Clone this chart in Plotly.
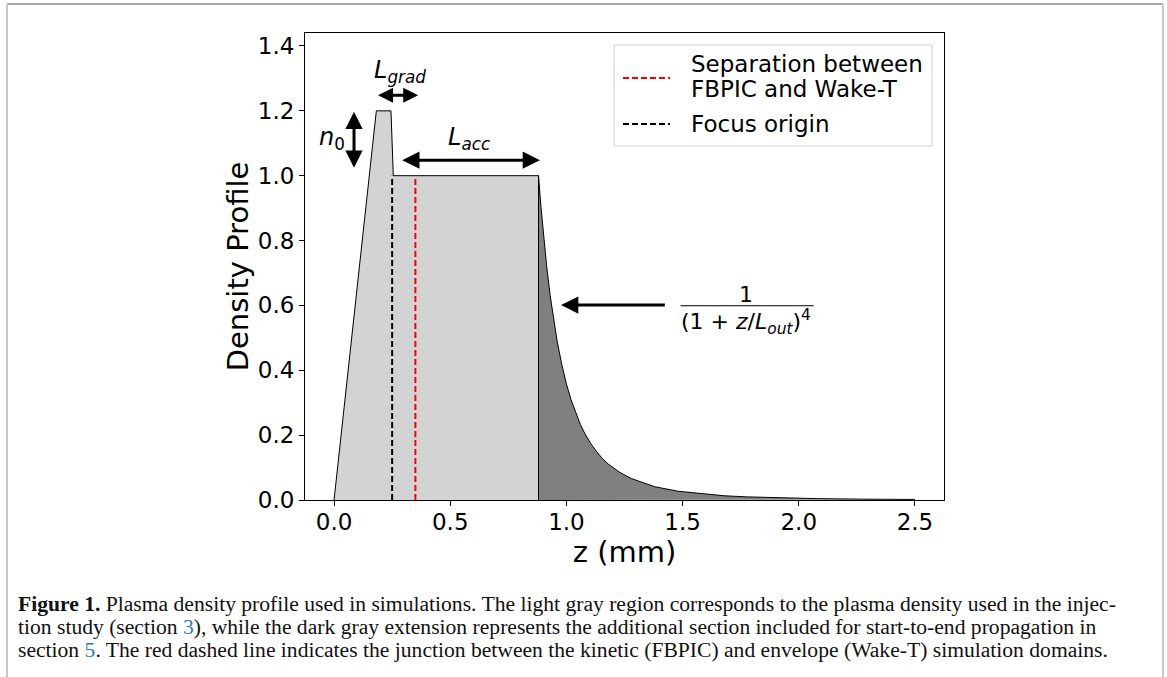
import plotly.graph_objects as go

# ---------------- data ----------------
profile_z = [0.0, 0.182, 0.245, 0.255, 0.88, 0.88]
profile_n = [0.0, 1.2, 1.2, 1.0, 1.0, 0.0]

decay_z = [0.88, 0.88, 0.89, 0.90, 0.915, 0.93, 0.945, 0.96, 0.98, 1.00, 1.02, 1.04,
           1.06, 1.08, 1.105, 1.13, 1.155, 1.18, 1.23, 1.28, 1.38, 1.48, 1.58,
           1.68, 1.78, 1.88, 2.08, 2.28, 2.50]
decay_n = [0.0, 1.0, 0.908, 0.826, 0.721, 0.631, 0.555, 0.490, 0.418, 0.358, 0.309, 0.268,
           0.233, 0.204, 0.174, 0.149, 0.128, 0.111, 0.085, 0.066, 0.041, 0.027, 0.019,
           0.013, 0.0096, 0.0071, 0.0042, 0.0026, 0.0017]

focus_z = 0.25
separation_z = 0.35
line_top = 1.0

x_ticks = [0.0, 0.5, 1.0, 1.5, 2.0, 2.5]
y_ticks = [0.0, 0.2, 0.4, 0.6, 0.8, 1.0, 1.2, 1.4]

legend_labels = ["Separation between", "FBPIC and Wake-T", "Focus origin"]

# ---------------- layout geometry ----------------
W, H = 1167, 677
L, R, T, B = 305, 944, 33, 500
PW, PH = R - L, B - T


def px(x):
    return (x - L) / PW


def py(y):
    return (B - y) / PH


FONT = "DejaVu Sans"
fig = go.Figure()

fig.add_trace(go.Scatter(x=profile_z, y=profile_n, mode="lines", fill="toself",
                         fillcolor="#d3d3d3", line=dict(color="black", width=1),
                         showlegend=False, hoverinfo="skip"))
fig.add_trace(go.Scatter(x=decay_z, y=decay_n, mode="lines", fill="toself",
                         fillcolor="#808080", line=dict(color="black", width=1),
                         showlegend=False, hoverinfo="skip"))
fig.add_trace(go.Scatter(x=[separation_z, separation_z], y=[0, line_top], mode="lines",
                         line=dict(color="red", width=2, dash="6px,3px"),
                         showlegend=False, name="Separation between FBPIC and Wake-T"))
fig.add_trace(go.Scatter(x=[focus_z, focus_z], y=[0, line_top], mode="lines",
                         line=dict(color="black", width=2, dash="6px,3px"),
                         showlegend=False, name="Focus origin"))

ann = []


def arrow(x0, y0, x1, y1, both=True, size=1.15):
    ann.append(dict(x=x1, y=y1, ax=x0, ay=y0, xref="x", yref="y", axref="x", ayref="y",
                    showarrow=True, arrowhead=2, arrowsize=size, arrowwidth=3,
                    arrowside="end+start" if both else "end", arrowcolor="black",
                    text=""))


arrow(0.183, 1.248, 0.362, 1.248, size=1.0)
arrow(0.086, 1.02, 0.086, 1.197)
arrow(0.287, 1.048, 0.886, 1.048)
arrow(1.43, 0.601, 0.977, 0.601, both=False)


def label(x, y, text, size=24):
    ann.append(dict(x=x, y=y, xref="x", yref="y", text=text, showarrow=False,
                    font=dict(family=FONT, size=size, color="black")))


label(0.285, 1.322, "<i>L</i><sub><i>grad</i></sub>")
label(-0.01, 1.116, "<i>n</i><sub>0</sub>")
label(0.58, 1.116, "<i>L</i><sub><i>acc</i></sub>")
label(1.775, 0.635, "1", 22)
label(1.775, 0.550, "(1 + <i>z</i>/<i>L</i><sub><i>out</i></sub>)<sup>4</sup>", 22)

# legend (drawn manually to match the reference box)
for txt, yy in zip(legend_labels, [64, 89, 124]):
    ann.append(dict(x=px(689), y=py(yy), xref="paper", yref="paper", text=txt,
                    showarrow=False, xanchor="left", yanchor="middle",
                    font=dict(family=FONT, size=23, color="black")))

# caption
cap_lines = [
    "<b>Figure 1.</b> Plasma density profile used in simulations. The light gray region corresponds to the plasma density used in the injec-",
    "tion study (section <span style='color:#2b7bb9'>3</span>), while the dark gray extension represents the additional section included for start-to-end propagation in",
    "section <span style='color:#2b7bb9'>5</span>. The red dashed line indicates the junction between the kinetic (FBPIC) and envelope (Wake-T) simulation domains.",
]
for i, t in enumerate(cap_lines):
    ann.append(dict(x=px(16), y=py(604 + 23 * i), xref="paper", yref="paper", text=t,
                    showarrow=False, xanchor="left", yanchor="middle", align="left",
                    font=dict(family="Liberation Serif", size=21.6, color="#111111")))

shapes = [
    dict(type="line", xref="x", yref="y", x0=1.491, x1=2.064, y0=0.599, y1=0.599,
         line=dict(color="black", width=1)),
    # legend box and samples
    dict(type="rect", xref="paper", yref="paper", x0=px(614), x1=px(932), y0=py(45), y1=py(146),
         line=dict(color="#d0d0d0", width=1), fillcolor="rgba(255,255,255,0.8)"),
    dict(type="line", xref="paper", yref="paper", x0=px(623), x1=px(670), y0=py(78), y1=py(78),
         line=dict(color="red", width=2, dash="6px,3px")),
    dict(type="line", xref="paper", yref="paper", x0=px(623), x1=px(670), y0=py(124), y1=py(124),
         line=dict(color="black", width=2, dash="6px,3px")),
    # page frame
    dict(type="line", xref="paper", yref="paper", x0=px(7), x1=px(1163), y0=py(4), y1=py(4),
         line=dict(color="#8a8a8a", width=1.5)),
    dict(type="line", xref="paper", yref="paper", x0=px(7), x1=px(7), y0=py(4), y1=py(677),
         line=dict(color="#c8c8c8", width=2)),
    dict(type="line", xref="paper", yref="paper", x0=px(1163), x1=px(1163), y0=py(4), y1=py(677),
         line=dict(color="#c8c8c8", width=2)),
]

axis_common = dict(showline=True, linecolor="black", linewidth=1, mirror=True,
                   ticks="outside", ticklen=5, tickwidth=1, tickcolor="black",
                   showgrid=False, zeroline=False,
                   tickfont=dict(family=FONT, size=23, color="black"))

fig.update_layout(
    width=W, height=H, margin=dict(l=L, r=W - R, t=T, b=H - B, pad=0),
    paper_bgcolor="white", plot_bgcolor="white",
    xaxis=dict(range=[-0.125, 2.625], tickvals=x_ticks,
               ticktext=[f"{v:.1f}" for v in x_ticks], ticklabelstandoff=-4,
               title=dict(text="z (mm)", font=dict(family=FONT, size=29, color="black"), standoff=0),
               **axis_common),
    yaxis=dict(range=[0, 1.44], tickvals=y_ticks,
               ticktext=[f"{v:.1f}" for v in y_ticks],
               title=dict(text="Density Profile", font=dict(family=FONT, size=29, color="black"), standoff=0),
               **axis_common),
    annotations=ann, shapes=shapes, showlegend=False,
)

fig.write_html("out.html")
